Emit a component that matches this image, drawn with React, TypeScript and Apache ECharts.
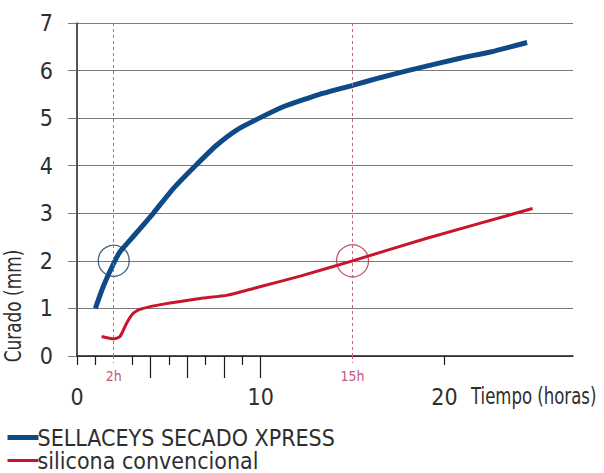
import React, { useEffect, useRef } from "react";
import * as echarts from "echarts";

const blueName = "SELLACEYS SECADO XPRESS";
const redName = "silicona convencional";

const blueT = [1, 1.43, 2, 2.34, 2.9, 4.15, 5.24, 6.42, 7.6, 8.69, 9.87, 11.23, 12.5, 13.2, 15, 16.5, 18, 20.85, 22.5, 24.5];
const blueV = [1.0, 1.46, 1.95, 2.19, 2.44, 3.0, 3.52, 3.99, 4.43, 4.75, 4.99, 5.24, 5.41, 5.5, 5.69, 5.85, 6.0, 6.26, 6.39, 6.59];

const redT = [1.34, 1.98, 2.34, 2.7, 3.07, 3.6, 4.7, 6.7, 8.2, 10, 12.15, 15, 19, 24.8];
const redV = [0.41, 0.36, 0.41, 0.69, 0.9, 1.0, 1.09, 1.21, 1.28, 1.46, 1.68, 2.0, 2.47, 3.1];

const markT = [2, 15];
const markLabels = ["2h", "15h"];
const circleBlue = [[2, 2]];
const circleRed = [[15, 2]];

const xLabelValues = [0, 10, 20];
const xShortTicks = [0, 1, 3, 5, 7, 9, 20];
const xLongTicks = [4, 6, 8, 10];
const xName = "Tiempo (horas)";
const yName = "Curado (mm)";

const FONT = "'DejaVu Sans Condensed', 'Liberation Sans Narrow', sans-serif";
const BLUE = "#0f4a88";
const RED = "#c8142c";
const PINK = "#d0607a";
const TEXT = "#2e2e2e";

export default function App() {
  const ref = useRef<HTMLDivElement>(null);
  useEffect(() => {
    if (!ref.current) return;
    const chart = echarts.init(ref.current, undefined, { renderer: "svg" });
    const baseX = { type: "value", min: 0, max: 27, position: "bottom", splitLine: { show: false } };
    chart.setOption({
      animation: false,
      textStyle: { fontFamily: FONT },
      grid: { left: 77, right: 31, top: 23, bottom: 117, containLabel: false },
      xAxis: [
        {
          ...baseX,
          axisLine: { show: true, onZero: false, lineStyle: { color: "#1a1a1a", width: 1.5 } },
          axisTick: { show: true, customValues: xShortTicks, length: 9, lineStyle: { color: "#1a1a1a", width: 1.2 } },
          axisLabel: { customValues: xLabelValues, fontSize: 23, color: TEXT, margin: 29, fontFamily: FONT },
        },
        {
          ...baseX,
          axisLine: { show: false, onZero: false },
          axisTick: { show: true, customValues: xLongTicks, length: 22, lineStyle: { color: "#1a1a1a", width: 1.2 } },
          axisLabel: { show: false },
        },
        {
          ...baseX,
          axisLine: { show: false, onZero: false },
          axisTick: { show: true, customValues: markT, length: 7, lineStyle: { color: PINK, width: 1, type: [3, 3] } },
          axisLabel: {
            customValues: markT,
            formatter: (v: number) => markLabels[markT.indexOf(v)] ?? "",
            fontSize: 14,
            color: "#c0587a",
            margin: 13,
            fontFamily: FONT,
          },
        },
      ],
      yAxis: {
        type: "value",
        min: 0,
        max: 7,
        interval: 1,
        axisLine: { show: true, lineStyle: { color: "#1a1a1a", width: 1.5 } },
        axisTick: { show: true, length: 9, lineStyle: { color: "#7a7a7a" } },
        axisLabel: { fontSize: 23, color: TEXT, margin: 24, fontFamily: FONT },
        splitLine: { show: true, lineStyle: { color: "#7a7a7a", width: 1 } },
      },
      legend: {
        orient: "vertical",
        left: 5,
        top: 426,
        padding: 0,
        itemGap: 0,
        itemWidth: 31,
        itemHeight: 14,
        itemStyle: { opacity: 0 },
        data: [
          { name: blueName, lineStyle: { width: 5, color: BLUE } },
          { name: redName, lineStyle: { width: 3, color: RED } },
        ],
        textStyle: { fontSize: 23, color: TEXT, lineHeight: 23, fontFamily: FONT, padding: [0, 0, 0, -6] },
      },
      series: [
        {
          name: blueName,
          type: "line",
          data: blueT.map((t, i) => [t, blueV[i]]),
          smooth: 0.2,
          symbol: "none",
          lineStyle: { color: BLUE, width: 5 },
          itemStyle: { color: BLUE },
          z: 3,
          markLine: {
            silent: true,
            symbol: "none",
            label: { show: false },
            lineStyle: { color: PINK, width: 1, type: [3, 3] },
            data: markT.map((t) => ({ xAxis: t })),
          },
        },
        {
          name: redName,
          type: "line",
          data: redT.map((t, i) => [t, redV[i]]),
          smooth: 0.2,
          symbol: "none",
          lineStyle: { color: RED, width: 3 },
          itemStyle: { color: RED },
          z: 3,
        },
        {
          type: "scatter",
          data: circleBlue,
          symbol: "circle",
          symbolSize: 31,
          itemStyle: { color: "transparent", borderColor: "#1f3d6b", borderWidth: 1.3 },
          z: 4,
        },
        {
          type: "scatter",
          data: circleRed,
          symbol: "circle",
          symbolSize: 32,
          itemStyle: { color: "transparent", borderColor: "#b5283c", borderWidth: 1.3 },
          z: 4,
        },
      ],
      graphic: [
        {
          type: "text",
          x: 471,
          y: 396,
          scaleX: 0.8,
          style: { text: xName, fontSize: 23, fill: TEXT, fontFamily: FONT, align: "left", verticalAlign: "middle" },
        },
        {
          type: "text",
          x: 13,
          y: 306,
          rotation: Math.PI / 2,
          scaleX: 0.82,
          style: { text: yName, fontSize: 23, fill: TEXT, fontFamily: FONT, align: "center", verticalAlign: "middle" },
        },
      ],
    });
    return () => chart.dispose();
  }, []);
  return <div ref={ref} style={{ width: 604, height: 473, position: "absolute", left: 0, top: 0 }} />;
}
